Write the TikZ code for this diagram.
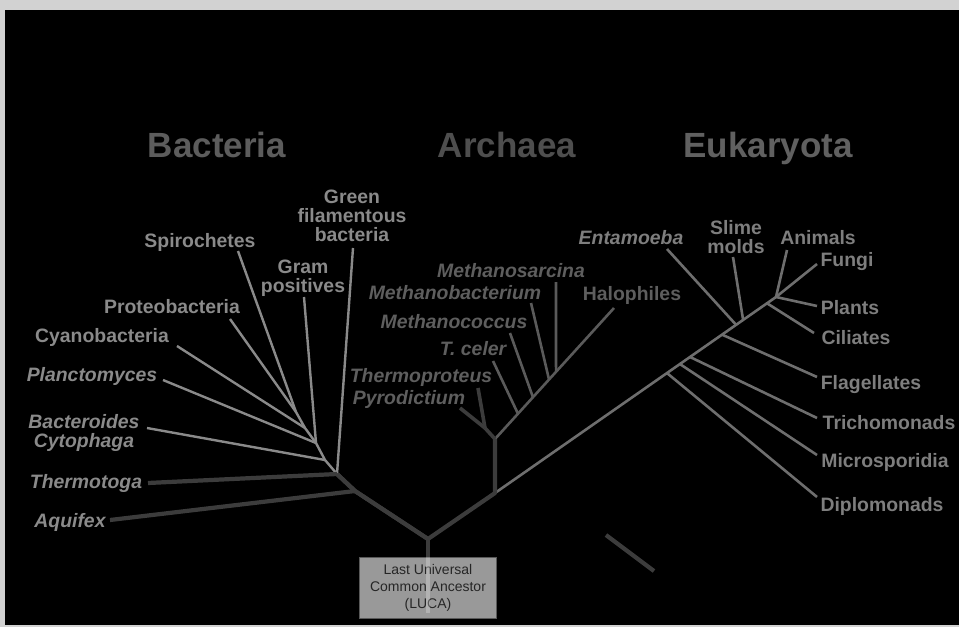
\documentclass[tikz,border=0pt]{standalone}
\usepackage{fontspec}
\setmainfont{Liberation Sans}
\usetikzlibrary{calc}
\definecolor{frame}{HTML}{D2D2D2}
\definecolor{ttlB}{HTML}{5C5C5C}
\definecolor{ttlA}{HTML}{4E4E4E}
\definecolor{ttlE}{HTML}{606060}
\definecolor{bact}{HTML}{8A8A8A}
\definecolor{arch}{HTML}{5E5E5E}
\definecolor{euk}{HTML}{7E7E7E}
\definecolor{trunk}{HTML}{3C3C3C}
\definecolor{bline}{HTML}{8A8A8A}
\definecolor{aline}{HTML}{5A5A5A}
\definecolor{eline}{HTML}{6E6E6E}
\definecolor{lucafill}{HTML}{999999}
\begin{document}
\begin{tikzpicture}[x=1pt,y=-1pt,
  title/.style={inner sep=0pt, text height=25pt, text depth=0pt, font=\fontsize{35}{36}\selectfont\bfseries},
  lab/.style={inner sep=0pt, text height=14pt, text depth=0pt, font=\fontsize{19.4}{19}\selectfont\bfseries},
  ilab/.style={lab, font=\fontsize{19.4}{19}\selectfont\bfseries\itshape},
  mlab/.style={inner sep=0pt, anchor=north, align=center, font=\fontsize{19.4}{19}\selectfont\bfseries},
  imlab/.style={mlab, font=\fontsize{19.4}{19}\selectfont\bfseries\itshape},
  thick line/.style={draw=trunk, line width=4.2pt},
  bthin/.style={draw=bline, line width=2.4pt},
  athin/.style={draw=aline, line width=2.6pt},
  ethin/.style={draw=eline, line width=2.6pt},
  lucabox/.style={draw=gray!70!black, line width=0.8pt, fill=lucafill, minimum width=137pt, minimum height=61pt, inner sep=0pt, align=center, font=\fontsize{14}{17}\selectfont, text=black!85}
]
\useasboundingbox (0,0) rectangle (959,627);
\fill[frame] (0,0) rectangle (959,627);
\fill[black] (5,10) rectangle (959,625);

% titles
\node[title, text=ttlB] (tB) at (217,145) {Bacteria};
\node[title, text=ttlA] (tA) at (507,145) {Archaea};
\node[title, text=ttlE] (tE) at (768,145) {Eukaryota};

% ---------- Bacteria ----------
\coordinate (R) at (428,539);
\coordinate (B0) at (355,491);
\coordinate (B1) at (337,474);
\coordinate (B2) at (325,460);
\coordinate (B3) at (316,443);
\coordinate (B4) at (305,428);
\coordinate (B5) at (296,412);
\coordinate (eAq) at (110,520);
\coordinate (eTh) at (148,483);
\coordinate (eGf) at (353,248);
\coordinate (eBc) at (147,428);
\coordinate (ePl) at (163,380);
\coordinate (eGp) at (304,297);
\coordinate (eCy) at (177,346);
\coordinate (ePr) at (230,319);
\coordinate (eSp) at (238,251);

\draw[bthin, line cap=round] (B1) -- (B2) -- (B3) -- (B4) -- (B5);
\draw[bthin] (B2) -- (eBc);
\draw[bthin] (B3) -- (ePl);
\draw[bthin] (B3) -- (eGp);
\draw[bthin] (B4) -- (eCy);
\draw[bthin] (B5) -- (ePr);
\draw[bthin] (B5) -- (eSp);
\draw[bthin] (B1) -- (eGf);
\draw[thick line] (B0) -- (eAq);
\draw[thick line] (B1) -- (eTh);
\draw[thick line, line join=round] (R) -- (B0) -- (B1);

\node[mlab, text=bact] (lGf) at (352,190) {Green\\filamentous\\bacteria};
\node[lab, text=bact] (lSp) at (200,240) {Spirochetes};
\node[mlab, text=bact] (lGp) at (303,260) {Gram\\positives};
\node[lab, text=bact] (lPr) at (172,306) {Proteobacteria};
\node[lab, text=bact] (lCy) at (102,335) {Cyanobacteria};
\node[ilab, text=bact] (lPl) at (92,374) {Planctomyces};
\node[imlab, text=bact] (lBc) at (84,414) {Bacteroides\\Cytophaga};
\node[ilab, text=bact] (lTh) at (86,481) {Thermotoga};
\node[ilab, text=bact] (lAq) at (70,520) {Aquifex};

% ---------- Archaea ----------
\coordinate (A0) at (495,493);
\coordinate (A1) at (495,439);
\coordinate (P) at (485,428);
\coordinate (ePy) at (460,408);
\coordinate (eTp) at (478,388);
\coordinate (eHa) at (614,308);
\coordinate (jTc) at ($(A1)!0.193!(eHa)$);
\coordinate (jMc) at ($(A1)!0.319!(eHa)$);
\coordinate (jMb) at ($(A1)!0.454!(eHa)$);
\coordinate (jMs) at ($(A1)!0.513!(eHa)$);
\coordinate (eTc) at (493,361);
\coordinate (eMc) at (510,333);
\coordinate (eMb) at (531,303);
\coordinate (eMs) at (556,282);

\draw[athin] (A1) -- (eHa);
\draw[athin] (jTc) -- (eTc);
\draw[athin] (jMc) -- (eMc);
\draw[athin] (jMb) -- (eMb);
\draw[athin] (jMs) -- (eMs);
\draw[thick line, line width=3.6pt] (P) -- (ePy);
\draw[thick line, line width=3.6pt] (P) -- (eTp);
\draw[thick line, line width=3.6pt] (A1) -- (P);

\node[ilab, text=arch] (lMs) at (511,270) {Methanosarcina};
\node[ilab, text=arch] (lMb) at (455,292) {Methanobacterium};
\node[ilab, text=arch] (lMc) at (454,321) {Methanococcus};
\node[ilab, text=arch] (lTc) at (473,348) {T. celer};
\node[ilab, text=arch] (lTp) at (421,375) {Thermoproteus};
\node[ilab, text=arch] (lPy) at (409,397) {Pyrodictium};
\node[lab, text=arch] (lHa) at (632,293) {Halophiles};

% ---------- Eukaryota ----------
\coordinate (EC) at (776,297);
\coordinate (jDi) at ($(A0)!0.612!(EC)$);
\coordinate (jMi) at ($(A0)!0.658!(EC)$);
\coordinate (jTr) at ($(A0)!0.694!(EC)$);
\coordinate (jFl) at ($(A0)!0.808!(EC)$);
\coordinate (jEn) at ($(A0)!0.858!(EC)$);
\coordinate (jSl) at ($(A0)!0.883!(EC)$);
\coordinate (jCi) at ($(A0)!0.968!(EC)$);
\coordinate (eDi) at (817,497);
\coordinate (eMi) at (817,455);
\coordinate (eTr) at (817,418);
\coordinate (eFl) at (817,377);
\coordinate (eEn) at (667,249);
\coordinate (eSl) at (733,257);
\coordinate (eCi) at (814,333);
\coordinate (ePt) at (817,306);
\coordinate (eFu) at (817,264);
\coordinate (eAn) at (787,250);

\draw[ethin] (A0) -- (EC);
\draw[ethin] (jDi) -- (eDi);
\draw[ethin] (jMi) -- (eMi);
\draw[ethin] (jTr) -- (eTr);
\draw[ethin] (jFl) -- (eFl);
\draw[ethin] (jEn) -- (eEn);
\draw[ethin] (jSl) -- (eSl);
\draw[ethin] (jCi) -- (eCi);
\draw[ethin] (EC) -- (ePt);
\draw[ethin] (EC) -- (eFu);
\draw[ethin] (EC) -- (eAn);

\node[lab, text=euk] (lDi) at (882,504) {Diplomonads};
\node[lab, text=euk] (lMi) at (885,460) {Microsporidia};
\node[lab, text=euk] (lTr) at (889,422) {Trichomonads};
\node[lab, text=euk] (lFl) at (871,382) {Flagellates};
\node[lab, text=euk] (lCi) at (856,337) {Ciliates};
\node[lab, text=euk] (lPt) at (850,307) {Plants};
\node[lab, text=euk] (lFu) at (847,259) {Fungi};
\node[lab, text=euk] (lAn) at (818,237) {Animals};
\node[ilab, text=euk] (lEn) at (631,237) {Entamoeba};
\node[mlab, text=euk] (lSl) at (736,220) {Slime\\molds};

% ---------- trunk and LUCA ----------
\draw[thick line, line join=round] (B1) -- (B0) -- (R) -- (A0) -- (A1);
\node[lucabox] (luca) at (428,588) {Last Universal\\Common Ancestor\\(LUCA)};
\draw[thick line] (R) -- (luca.north);
\draw[draw=white, opacity=0.25, line width=4pt] (luca.north) -- (428,613);

% stray segment
\coordinate (s1) at (606,535);
\coordinate (s2) at (654,571);
\draw[thick line] (s1) -- (s2);
\end{tikzpicture}
\end{document}
